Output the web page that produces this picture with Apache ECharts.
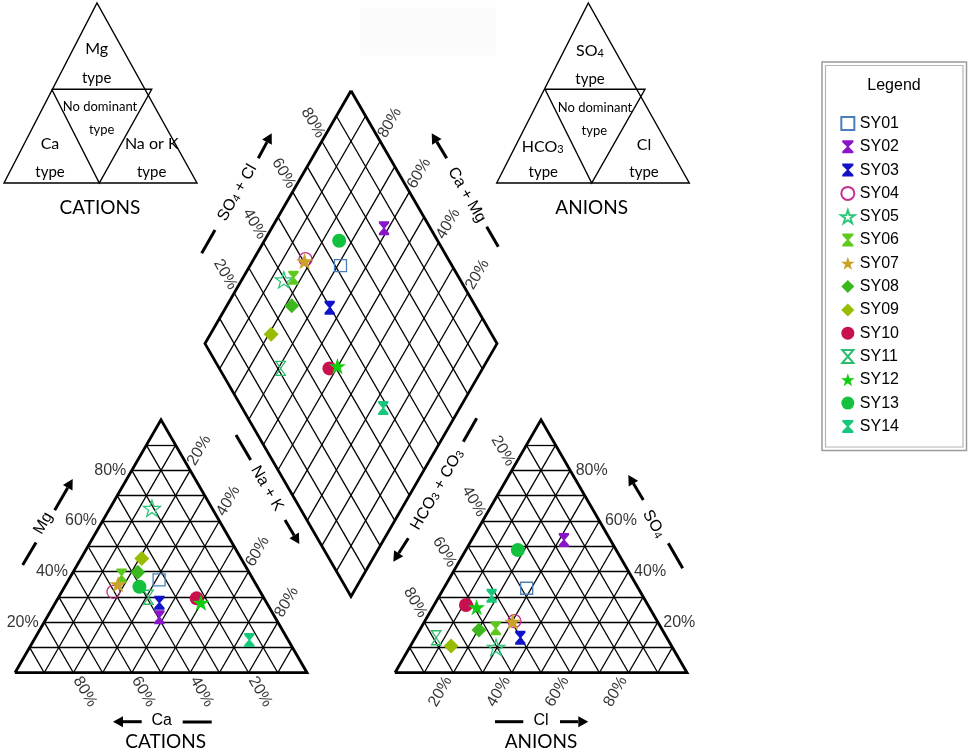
<!DOCTYPE html>
<html><head><meta charset="utf-8">
<script src="https://cdn.jsdelivr.net/npm/echarts@6/dist/echarts.min.js"></script>
<style>html,body{margin:0;padding:0;background:#fff}#c{width:969px;height:751px}</style>
</head><body><div id="c"></div>
<script>
// ---------- DATA (percent of meq) ----------
const samples = ['SY01','SY02','SY03','SY04','SY05','SY06','SY07','SY08','SY09','SY10','SY11','SY12','SY13','SY14'];
// cations
const ca   = [32.3, 39.6, 36.7, 50.3, 20.6, 44.3, 47.2, 38.1, 34.0, 23.1, 39.4, 22.5, 40.4, 13.3];
const mg   = [36.7, 21.9, 27.7, 32.0, 65.0, 38.4, 35.0, 39.7, 45.2, 29.4, 29.8, 27.7, 34.0, 12.9];
const nak  = [31.0, 38.5, 35.6, 17.7, 14.4, 17.3, 17.8, 22.2, 20.8, 47.5, 30.8, 49.8, 25.6, 73.8];
// anions
const hco3 = [38.2, 15.9, 50.2, 48.9, 60.4, 56.7, 49.6, 62.8, 75.5, 62.3, 79.0, 59.1, 33.7, 51.7];
const so4  = [33.4, 52.5, 13.8, 20.4, 10.0, 17.6, 20.2, 16.9, 10.6, 26.8, 13.8, 25.9, 48.5, 30.4];
const cl   = [28.4, 31.6, 36.0, 30.7, 29.6, 25.7, 30.2, 20.3, 13.9, 10.9,  7.2, 15.0, 17.8, 17.9];
// axis ticks
const gridSteps = [10,20,30,40,50,60,70,80,90];
const tickLabels = [20,40,60,80];

// ---------- STYLE ----------
const markerStyle = [
  {shape:'square',  color:'#4a7ebb', hollow:true, size:12},
  {shape:'hg',      color:'#8a14c8', size:[12,14]},
  {shape:'hg',      color:'#1212c8', size:[12,14]},
  {shape:'circle',  color:'#c4308e', hollow:true, size:13},
  {shape:'star',    color:'#2cc878', hollow:true, size:17},
  {shape:'hg',      color:'#5ec81c', size:[12,14]},
  {shape:'star',    color:'#c9a227', size:17},
  {shape:'diamond', color:'#3cb81e', size:15},
  {shape:'diamond', color:'#98bc00', size:15},
  {shape:'circle',  color:'#c8104e', size:14},
  {shape:'hgOpen',  color:'#2cbc6c', hollow:true, size:[11,14]},
  {shape:'star',    color:'#12cc12', size:17},
  {shape:'circle',  color:'#12c23e', size:14},
  {shape:'hg',      color:'#18c87a', size:[12,14]}
];
function starPath(){
  const p=[];
  for(let i=0;i<10;i++){
    const r = i%2 ? 3.9 : 10;
    const a = (-90 + i*36)*Math.PI/180;
    p.push((10+r*Math.cos(a)).toFixed(3)+','+(10+r*Math.sin(a)).toFixed(3));
  }
  return 'path://M'+p.join('L')+'Z';
}
const SHAPES = {
  square:'path://M0,0L12,0L12,12L0,12Z',
  hg:'path://M0,0L12,0L12,2L7,7L12,12L12,14L0,14L0,12L5,7L0,2Z',
  hgOpen:'path://M0,0L12,0L6,7L12,14L0,14L6,7Z',
  circle:'circle',
  star:starPath(),
  diamond:'path://M7,0L14,7L7,14L0,7Z'
};

// ---------- GEOMETRY ----------
const PX = 292, X0 = 15, Y0 = 672.7;
const S3 = Math.sqrt(3)/2;
const GAP = 0.3014;
function cat(c, m, n){ return [(n + m/2)/100, m/100*S3]; }
function an(h, s, c){ return [1 + GAP + (c + s/2)/100, s/100*S3]; }
function dia(n, h){ const a = 1 - n/100, b = 1 - h/100; return [1 + GAP/2 + 0.5*(b - a), GAP*S3 + (a + b)*S3]; }
function off(p, dx, dy){ return [p[0] + dx/PX, p[1] - dy/PX]; }

// grid lines
const thin = [];
gridSteps.forEach(t => {
  thin.push({coords:[cat(100-t,t,0), cat(0,t,100-t)]});
  thin.push({coords:[cat(100-t,0,t), cat(0,100-t,t)]});
  thin.push({coords:[cat(t,0,100-t), cat(t,100-t,0)]});
  thin.push({coords:[an(100-t,t,0), an(0,t,100-t)]});
  thin.push({coords:[an(100-t,0,t), an(0,100-t,t)]});
  thin.push({coords:[an(t,0,100-t), an(t,100-t,0)]});
  thin.push({coords:[dia(t,0), dia(t,100)]});
  thin.push({coords:[dia(0,t), dia(100,t)]});
});
const borders = [
  {coords:[cat(100,0,0), cat(0,0,100), cat(0,100,0), cat(100,0,0)]},
  {coords:[an(100,0,0), an(0,0,100), an(0,100,0), an(100,0,0)]},
  {coords:[dia(0,0), dia(100,0), dia(100,100), dia(0,100), dia(0,0)]}
];

// tick labels
const tickData = [];
function tk(p, text, rot, pos){
  tickData.push({value:p, label:{show:true, formatter:text, rotate:rot||0, position:pos||'inside', distance:5}});
}
tickLabels.forEach(t => {
  const s = t + '%';
  tk(cat(100-t, t, 0), s, 0, 'left');                 // Mg
  tk(off(cat(0, 100-t, t), 9, -20), s, 60);           // Na+K
  tk(off(cat(t, 0, 100-t), 11.5, 19), s, -60);        // Ca
  tk(off(an(t, 100-t, 0), -9, -19.5), s, -60);        // HCO3+CO3
  tk(an(0, t, 100-t), s, 0, 'right');                 // SO4
  tk(off(an(100-t, 0, t), -13, 19), s, 60);           // Cl
  tk(off(dia(0, 100-t), -9, -18.5), s, -60);          // SO4+Cl
  tk(off(dia(100-t, 0), 9.7, -18.5), s, 60);          // Ca+Mg
});

// sample series
const sampleSeries = samples.map((name, i) => {
  const st = markerStyle[i];
  const itemStyle = st.hollow
    ? {color:'rgba(255,255,255,0)', borderColor:st.color, borderWidth:1.3, opacity:1}
    : {color:st.color, opacity:1};
  return {
    name, type:'scatter', symbol:SHAPES[st.shape], symbolSize:st.size, symbolKeepAspect:true,
    itemStyle, z:10 + i,
    data:[cat(ca[i], mg[i], nak[i]), an(hco3[i], so4[i], cl[i]), dia(nak[i], hco3[i])]
  };
});

// ---------- DECORATION (graphic) ----------
const G = [];
const TXT = 'Liberation Sans, Arial, sans-serif';
const CAL = 'Lato, Open Sans, sans-serif';
function line(x1,y1,x2,y2,w){ G.push({type:'line', shape:{x1,y1,x2,y2}, style:{stroke:'#000', lineWidth:w||3}, silent:true}); }
function arrow(x1,y1,x2,y2){
  const a = Math.atan2(y2-y1, x2-x1), L = 10, W = 5.5;
  const bx = x2 - L*Math.cos(a), by = y2 - L*Math.sin(a);
  const px = -Math.sin(a), py = Math.cos(a);
  line(x1,y1,bx,by,3);
  G.push({type:'polygon', shape:{points:[[x2,y2],[bx+px*W,by+py*W],[bx-px*W,by-py*W]]}, style:{fill:'#000'}, silent:true});
}
function text(x,y,t,size,rotDeg,font,rich){
  G.push({type:'text', x, y, rotation:(rotDeg||0)*Math.PI/180, silent:true,
    style:{text:t, font:size+'px '+(font||TXT), fontSize:size, fontFamily:font||TXT, fill:'#000', align:'center', verticalAlign:'middle', rich:rich}});
}
const subRich = (size) => ({a:{fontSize:size, fontFamily:TXT, lineHeight:size+3, verticalAlign:'bottom'}, b:{fontSize:Math.round(size*0.68), fontFamily:TXT, lineHeight:Math.round(size*0.55), verticalAlign:'bottom'}});
const subRichCal = (size) => ({a:{fontSize:size, fontFamily:CAL, lineHeight:size+3, verticalAlign:'bottom'}, b:{fontSize:Math.round(size*0.68), fontFamily:CAL, lineHeight:Math.round(size*0.6), verticalAlign:'bottom'}});

// faint box top middle
G.push({type:'rect', shape:{x:360, y:7.5, width:136, height:48}, style:{fill:'#fbfbfb'}, silent:true, z:-1});

// small classification triangles
function smallTri(l, ap, r, ml, mr, bm){
  G.push({type:'polygon', shape:{points:[l, ap, r]}, style:{fill:'none', stroke:'#000', lineWidth:1.4}, silent:true});
  G.push({type:'polyline', shape:{points:[ml, mr, bm, ml]}, style:{fill:'none', stroke:'#000', lineWidth:1.4}, silent:true});
}
smallTri([4,183],[97,3],[197,183],[51.7,89.3],[151.7,89.3],[99.3,183]);
smallTri([496.7,183],[588.3,3],[689.3,183],[545,89.3],[645,89.3],[591.7,183]);
text(96.7,48.5,'Mg',16,0,CAL); text(96.7,78.5,'type',15,0,CAL);
text(100,107,'No dominant',13,0,CAL); text(101.7,130,'type',13,0,CAL);
text(50,143.5,'Ca',16,0,CAL); text(50,172,'type',15,0,CAL);
text(151.7,143.5,'Na or K',16,0,CAL); text(151.7,172,'type',15,0,CAL);
text(100,208,'CATIONS',19,0,CAL);
text(590,49.5,'{a|SO}{b|4}',16,0,CAL,subRichCal(16)); text(590,79,'type',15,0,CAL);
text(595,107.5,'No dominant',13,0,CAL); text(594.3,131,'type',13,0,CAL);
text(542.7,145,'{a|HCO}{b|3}',16,0,CAL,subRichCal(16)); text(543.3,172.5,'type',15,0,CAL);
text(644,145,'Cl',16,0,CAL); text(644,172.5,'type',15,0,CAL);
text(591.7,208,'ANIONS',19,0,CAL);

// axis titles & arrows
line(22.7,565,36,542.5); text(43.3,523.3,'Mg',16,60); arrow(54.7,510.2,72.7,479);
arrow(141.7,721.7,113,721.7); text(161.7,720.5,'Ca',16,0); line(182.7,722,211.7,722);
text(165.7,741.5,'CATIONS',19,0,CAL);
line(236,435,250.7,460); text(267,488.5,'Na + K',16,-60); arrow(285,520,299.3,544);
line(476.7,418.3,463.3,441.7); text(436,489,'{a|HCO}{b|3}{a| + CO}{b|3}',16,60,TXT,subRich(16)); arrow(408.3,538.3,393.3,561.7);
arrow(643.3,500,628.3,475); text(655,523.3,'{a|SO}{b|4}',16,-60,TXT,subRich(16)); line(668.3,543.3,682.7,568.3);
line(495,721.7,523.3,721.7); text(541,720.5,'Cl',16,0); arrow(560,721.7,588.3,721.7);
text(541,741.5,'ANIONS',19,0,CAL);
line(201.7,253.3,215,230); text(236,192,'{a|SO}{b|4}{a| + Cl}',16,60,TXT,subRich(16)); arrow(258.3,158.3,271.7,133.3);
arrow(446.7,158.3,431.7,133.3); text(466.7,195,'Ca + Mg',16,-60); line(486.7,226.7,498.3,246.7);

// legend frame
G.push({type:'rect', shape:{x:822, y:62, width:144.5, height:388.5}, style:{fill:'none', stroke:'#9a9a9a', lineWidth:1.5}, silent:true});
G.push({type:'rect', shape:{x:825.5, y:65.5, width:137.5, height:381.5}, style:{fill:'none', stroke:'#b5b5b5', lineWidth:1.2}, silent:true});
text(894,86,'Legend',16,0);

// ---------- CHART ----------
const chart = echarts.init(document.getElementById('c'), null, {renderer:'canvas'});
chart.setOption({
  animation:false,
  backgroundColor:'#fff',
  grid:{left:0, right:0, top:0, bottom:0},
  xAxis:{type:'value', show:false, min:-X0/PX, max:(969-X0)/PX},
  yAxis:{type:'value', show:false, min:-(751-Y0)/PX, max:Y0/PX},
  legend:{
    data:samples, orient:'vertical', left:835, top:110.5, itemWidth:14, itemHeight:13, itemGap:7.3,
    selectedMode:false,
    textStyle:{fontSize:16, fontFamily:TXT, color:'#000', lineHeight:16}
  },
  series:[
    {type:'lines', coordinateSystem:'cartesian2d', silent:true, z:1, data:thin,
      lineStyle:{color:'#000', width:1.3, opacity:1}},
    {type:'lines', coordinateSystem:'cartesian2d', polyline:true, silent:true, z:2, data:borders,
      lineStyle:{color:'#000', width:2.8, opacity:1}},
    {type:'scatter', silent:true, z:3, symbol:'circle', symbolSize:1, itemStyle:{color:'rgba(0,0,0,0)'},
      label:{show:true, fontSize:16, fontFamily:TXT, color:'#000'}, data:tickData}
  ].concat(sampleSeries),
  graphic:G
});
</script>
</body></html>
